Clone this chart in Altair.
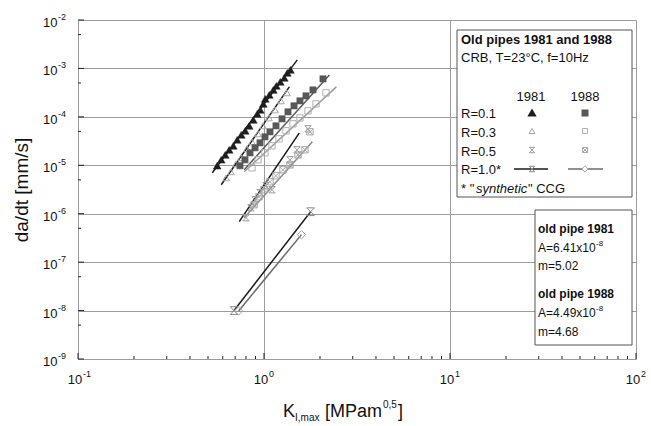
import altair as alt
import pandas as pd

W, H = 558, 339

# ---------------- data ----------------
# R=0.1, 1981 (filled triangles)
k_r01_81 = [0.560, 0.589, 0.619, 0.650, 0.684, 0.718, 0.755, 0.793, 0.833, 0.876, 0.920,
            0.955, 0.991, 1.016, 1.068, 1.122, 1.165, 1.224, 1.286, 1.335, 1.387]
v_r01_81 = [9.8e-6, 1.30e-5, 1.64e-5, 2.09e-5, 2.52e-5, 3.36e-5, 4.26e-5, 5.15e-5, 6.52e-5,
            8.67e-5, 1.15e-4, 1.39e-4, 1.85e-4, 2.35e-4, 2.84e-4, 3.6e-4, 4.36e-4, 5.27e-4,
            6.37e-4, 8.08e-4, 9.3e-4]
# R=0.1, 1988 (filled squares)
k_r01_88 = [0.743, 0.790, 0.841, 0.895, 0.952, 1.012, 1.077, 1.160, 1.250, 1.346, 1.450,
            1.561, 1.682, 1.834, 2.076]
v_r01_88 = [9.8e-6, 1.30e-5, 1.81e-5, 2.30e-5, 2.91e-5, 3.87e-5, 4.91e-5, 6.52e-5, 9.1e-5,
            1.27e-4, 1.69e-4, 2.14e-4, 2.71e-4, 3.6e-4, 6.08e-4]
# R=0.3, 1981 (open triangles)
k_r03_81 = [0.625, 0.665, 0.707, 0.752, 0.810, 0.862, 0.928, 0.988, 1.064, 1.146, 1.234, 1.329]
v_r03_81 = [5.52e-6, 7.34e-6, 1.07e-5, 1.43e-5, 2.19e-5, 3.05e-5, 4.46e-5, 6.52e-5, 9.5e-5,
            1.39e-4, 2.14e-4, 3.13e-4]
# R=0.3, 1988 (open squares)
k_r03_88 = [0.862, 0.928, 1.012, 1.104, 1.204, 1.313, 1.432, 1.561, 1.724, 1.904, 2.154]
v_r03_88 = [8.88e-6, 1.30e-5, 1.81e-5, 2.52e-5, 3.52e-5, 5.15e-5, 7.18e-5, 9.5e-5, 1.33e-4,
            1.85e-4, 3.13e-4]
# R=0.5, 1981
k_r05_81 = [0.800, 0.851, 0.895, 0.952, 1.025, 1.104, 1.380, 1.504, 1.724]
v_r05_81 = [8.27e-7, 1.33e-6, 1.94e-6, 2.71e-6, 3.78e-6, 3.13e-6, 1.30e-5, 2.09e-5, 5.66e-5]
# R=0.5, 1988
k_r05_88 = [0.884, 0.940, 1.000, 1.077, 1.160, 1.265, 1.380, 1.523, 1.661, 1.767]
v_r05_88 = [1.53e-6, 2.24e-6, 3.13e-6, 4.57e-6, 6.08e-6, 8.07e-6, 1.02e-5, 1.64e-5, 2.09e-5, 4.91e-5]
# R=1.0* synthetic
k_r10_81 = [0.69, 1.78]
v_r10_81 = [1.0e-8, 1.1e-6]
k_r10_88 = [0.73, 1.59]
v_r10_88 = [9.8e-9, 3.7e-7]

# fitted lines (end points)
fit_names = ["f01_81", "f03_81", "f01_88", "f03_88", "f05_81", "f05_88", "f10_81", "f10_88"]
fit_k = [[0.527, 1.51], [0.589, 1.369], [0.783, 2.247], [0.783, 2.45],
         [0.736, 1.549], [0.783, 1.82], [0.69, 1.78], [0.73, 1.59]]
fit_v = [[7.0e-6, 1.5e-3], [3.96e-6, 4.16e-4], [8.07e-6, 7.34e-4], [7.34e-6, 4.16e-4],
         [6.84e-7, 4.68e-5], [8.27e-7, 3.05e-5], [1.0e-8, 1.1e-6], [9.8e-9, 3.7e-7]]
fit_colors = ["#1a1a1a", "#1a1a1a", "#5a5a5a", "#9a9a9a", "#1a1a1a", "#8a8a8a", "#1a1a1a", "#6a6a6a"]

x_decades = [0.1, 1, 10, 100]
x_sup = ["-1", "0", "1", "2"]
y_decades = [1e-2, 1e-3, 1e-4, 1e-5, 1e-6, 1e-7, 1e-8, 1e-9]
y_sup = ["-2", "-3", "-4", "-5", "-6", "-7", "-8", "-9"]
x_minor = [m * d for d in [0.1, 1, 10] for m in range(2, 10)]
y_minor = [5 * d for d in [1e-9, 1e-8, 1e-7, 1e-6, 1e-5, 1e-4, 1e-3]]

FONT = "Liberation Sans"

xs = alt.Scale(type="log", domain=[0.1, 100], nice=False)
ys = alt.Scale(type="log", domain=[1e-9, 1e-2], nice=False)

# ---------------- grid ----------------
grid = alt.Chart(pd.DataFrame({"k": [1.0], "v": [1e-5]})).mark_point(opacity=0).encode(
    x=alt.X("k:Q", scale=xs, axis=alt.Axis(values=x_decades, grid=True, labels=False, ticks=False,
                                            domain=False, title=None, gridColor="#9c9c9c", gridWidth=1)),
    y=alt.Y("v:Q", scale=ys, axis=alt.Axis(values=y_decades, grid=True, labels=False, ticks=False,
                                            domain=False, title=None, gridColor="#9c9c9c", gridWidth=1)),
)

# ---------------- fit lines ----------------
rows = []
for n, ks, vs in zip(fit_names, fit_k, fit_v):
    for kk, vv in zip(ks, vs):
        rows.append({"fit": n, "k": kk, "v": vv})
fit_df = pd.DataFrame(rows)
lines = alt.Chart(fit_df).mark_line(strokeWidth=1.5).encode(
    x=alt.X("k:Q", scale=xs), y=alt.Y("v:Q", scale=ys), detail="fit:N",
    color=alt.Color("fit:N", scale=alt.Scale(domain=fit_names, range=fit_colors), legend=None),
)

SQX = "M-1,-1L1,-1L1,1L-1,1L-1,-1M-1,-1L1,1M1,-1L-1,1"
HOUR = "M-1,-1L1,-1M-1,1L1,1M-1,-1L1,1M1,-1L-1,1"


def pts(ks, vs, shape, color, filled, size):
    df = pd.DataFrame({"k": ks, "v": vs})
    if filled:
        mark = alt.Chart(df).mark_point(shape=shape, filled=True, fill=color, stroke=color,
                                        strokeWidth=0.5, size=size, opacity=1)
    else:
        mark = alt.Chart(df).mark_point(shape=shape, filled=False, fill="transparent", stroke=color,
                                        strokeWidth=1, size=size, opacity=1)
    return mark.encode(x=alt.X("k:Q", scale=xs), y=alt.Y("v:Q", scale=ys))


p_layers = [
    pts(k_r05_81, v_r05_81, HOUR, "#9a9a9a", False, 40),
    pts(k_r05_88, v_r05_88, SQX, "#a8a8a8", False, 40),
    pts(k_r03_88, v_r03_88, "square", "#b0b0b0", False, 40),
    pts(k_r03_81, v_r03_81, "triangle-up", "#a8a8a8", False, 45),
    pts(k_r01_88, v_r01_88, "square", "#585858", True, 40),
    pts(k_r01_81, v_r01_81, "triangle-up", "#1e1e1e", True, 60),
    pts(k_r10_81, v_r10_81, HOUR, "#8a8a8a", False, 60),
    pts(k_r10_88, v_r10_88, "diamond", "#a0a0a0", False, 70),
]

# ---------------- axis ticks (inward) ----------------
def xticks(vals, length):
    return alt.Chart(pd.DataFrame({"k": vals})).mark_rule(color="#222", strokeWidth=1).encode(
        x=alt.X("k:Q", scale=xs), y=alt.value(H), y2=alt.value(H - length))


def yticks(vals, length):
    return alt.Chart(pd.DataFrame({"v": vals})).mark_rule(color="#222", strokeWidth=1).encode(
        y=alt.Y("v:Q", scale=ys), x=alt.value(0), x2=alt.value(length))


ticks = [xticks(x_decades, 6), xticks(x_minor, 3), yticks(y_decades, 6), yticks(y_minor, 3)]

# ---------------- tick labels ----------------
ylab_df = pd.DataFrame({"v": y_decades, "s": y_sup})
ylab10 = alt.Chart(ylab_df).mark_text(font=FONT, fontSize=13, align="left", baseline="middle",
                                      dy=3, color="#111").encode(
    y=alt.Y("v:Q", scale=ys), x=alt.value(-35), text=alt.value("10"))
ylabs = alt.Chart(ylab_df).mark_text(font=FONT, fontSize=9, align="left", baseline="middle",
                                     dy=-3, color="#111").encode(
    y=alt.Y("v:Q", scale=ys), x=alt.value(-20), text="s:N")
xlab_df = pd.DataFrame({"k": x_decades, "s": x_sup})
xlab10 = alt.Chart(xlab_df).mark_text(font=FONT, fontSize=13, align="center", baseline="alphabetic",
                                      dx=-3, color="#111").encode(
    x=alt.X("k:Q", scale=xs), y=alt.value(H + 25), text=alt.value("10"))
xlabs = alt.Chart(xlab_df).mark_text(font=FONT, fontSize=9, align="left", baseline="alphabetic",
                                     dx=5, color="#111").encode(
    x=alt.X("k:Q", scale=xs), y=alt.value(H + 18), text="s:N")

one = pd.DataFrame({"a": [0]})


def txt(s, x, y, size=13, weight="normal", style="normal", align="left", color="#111"):
    return alt.Chart(one).mark_text(font=FONT, fontSize=size, fontWeight=weight, fontStyle=style,
                                    align=align, baseline="alphabetic", color=color).encode(
        x=alt.value(x), y=alt.value(y), text=alt.value(s))


def box(x1, y1, x2, y2):
    return alt.Chart(one).mark_rect(fill="white", stroke="#555", strokeWidth=1).encode(
        x=alt.value(x1), x2=alt.value(x2), y=alt.value(y1), y2=alt.value(y2))


def hline(x1, x2, y, color):
    return alt.Chart(one).mark_rule(color=color, strokeWidth=1.5).encode(
        x=alt.value(x1), x2=alt.value(x2), y=alt.value(y))


def mk(x, y, shape, color, filled, size):
    if filled:
        return alt.Chart(one).mark_point(shape=shape, filled=True, fill=color, stroke=color,
                                         size=size, opacity=1).encode(x=alt.value(x), y=alt.value(y))
    return alt.Chart(one).mark_point(shape=shape, filled=False, stroke=color, fill="white",
                                     strokeWidth=1, size=size, opacity=1).encode(x=alt.value(x), y=alt.value(y))


legend = [
    box(379, 10, 554, 177),
    txt("Old pipes 1981 and 1988", 383, 24, weight="bold"),
    txt("CRB, T=23°C, f=10Hz", 383, 42),
    txt("1981", 453, 81, align="center"),
    txt("1988", 507, 81, align="center"),
    txt("R=0.1", 383, 98), txt("R=0.3", 383, 117), txt("R=0.5", 383, 136), txt("R=1.0*", 383, 154),
    txt('* "', 383, 173), txt("synthetic", 398, 173, style="italic"), txt('" CCG', 450, 173),
    mk(454, 93, "triangle-up", "#1e1e1e", True, 35),
    mk(507, 93, "square", "#585858", True, 25),
    mk(454, 111, "triangle-up", "#a8a8a8", False, 35),
    mk(507, 111, "square", "#b0b0b0", False, 25),
    mk(454, 130, HOUR, "#9a9a9a", False, 30),
    mk(507, 130, SQX, "#a8a8a8", False, 25),
    hline(436, 470, 149, "#1a1a1a"), mk(454, 149, HOUR, "#8a8a8a", False, 30),
    hline(490, 525, 149, "#6a6a6a"), mk(507, 149, "diamond", "#a0a0a0", False, 40),
    box(457, 190, 554, 325),
    txt("old pipe 1981", 460, 213, size=12, weight="bold"),
    txt("A=6.41x10", 460, 232, size=12), txt("-8", 518, 226, size=8),
    txt("m=5.02", 460, 250, size=12),
    txt("old pipe 1988", 460, 278, size=12, weight="bold"),
    txt("A=4.49x10", 460, 297, size=12), txt("-8", 518, 291, size=8),
    txt("m=4.68", 460, 316, size=12),
]

titles = [
    alt.Chart(one).mark_text(font=FONT, fontSize=19, angle=270, align="center", baseline="middle",
                             color="#111").encode(x=alt.value(-56), y=alt.value(170),
                                                  text=alt.value("da/dt [mm/s]")),
    txt("K", 205, 397, size=18),
    txt("I,max", 217, 401, size=10),
    txt("[MPam", 247, 397, size=18),
    txt("0,5", 305, 388, size=10),
    txt("]", 320, 397, size=18),
]

chart = alt.layer(grid, lines, *p_layers, *ticks, ylab10, ylabs, xlab10, xlabs, *legend, *titles).properties(
    width=W, height=H,
    autosize=alt.AutoSizeParams(type="none"),
    padding={"left": 78, "top": 20, "right": 15, "bottom": 67},
).configure_view(stroke="#222", strokeWidth=1.5).configure(background="white")

chart.save("out.html", embed_options={"renderer": "svg", "actions": False})
